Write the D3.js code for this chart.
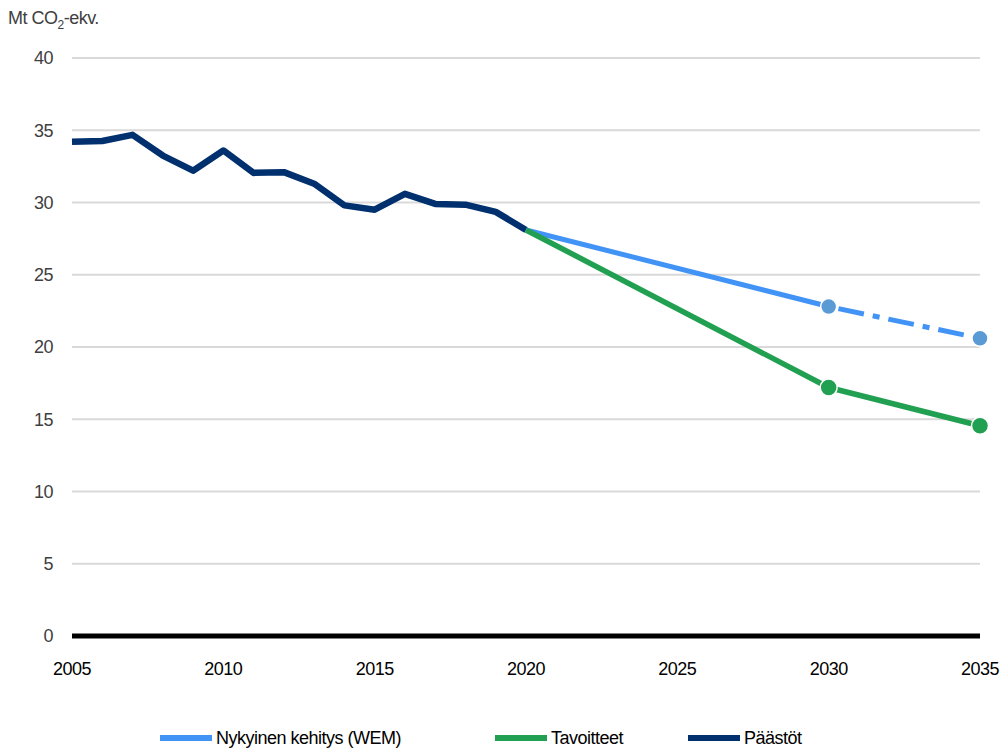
<!DOCTYPE html>
<html>
<head>
<meta charset="utf-8">
<script src="https://cdn.jsdelivr.net/npm/d3@7"></script>
<style>
  body { margin: 0; background: #fff; }
  svg { font-family: "Liberation Sans", "Arial", sans-serif; letter-spacing: -0.5px; }
</style>
</head>
<body>
<svg id="chart"></svg>
<script>
// Historical emissions (Päästöt)
const histYears = [2005, 2006, 2007, 2008, 2009, 2010, 2011, 2012, 2013, 2014, 2015, 2016, 2017, 2018, 2019, 2020];
const histValues = [34.2, 34.26, 34.68, 33.25, 32.2, 33.6, 32.05, 32.1, 31.3, 29.8, 29.5, 30.6, 29.9, 29.85, 29.35, 28.1];

// Nykyinen kehitys (WEM)
const wemYears = [2020, 2030, 2035];
const wemValues = [28.1, 22.8, 20.6];

// Tavoitteet
const targetYears = [2020, 2030, 2035];
const targetValues = [28.1, 17.2, 14.55];

const yTicks = [0, 5, 10, 15, 20, 25, 30, 35, 40];
const xTicks = [2005, 2010, 2015, 2020, 2025, 2030, 2035];

const legendItems = [
  { label: 'Nykyinen kehitys (WEM)', color: '#4193f5' },
  { label: 'Tavoitteet', color: '#22a052' },
  { label: 'Päästöt', color: '#00306e' }
];

const width = 1000, height = 749;
const margin = { top: 58, right: 20, bottom: 113, left: 72 };

const svg = d3.select('#chart').attr('width', width).attr('height', height);

const x = d3.scaleLinear().domain([2005, 2035]).range([margin.left, 980]);
const y = d3.scaleLinear().domain([0, 40]).range([height - margin.bottom, margin.top]);

// Gridlines
svg.append('g')
  .selectAll('line')
  .data(yTicks.filter(d => d > 0))
  .enter()
  .append('line')
  .attr('x1', x(2005))
  .attr('x2', x(2035))
  .attr('y1', d => y(d))
  .attr('y2', d => y(d))
  .attr('stroke', '#d9d9d9')
  .attr('stroke-width', 2);

// Y tick labels
svg.append('g')
  .selectAll('text')
  .data(yTicks)
  .enter()
  .append('text')
  .attr('x', 53)
  .attr('y', d => y(d))
  .attr('dy', '0.35em')
  .attr('text-anchor', 'end')
  .attr('fill', '#404040')
  .style('font-size', '18px')
  .text(d => d);

// Zero axis
svg.append('line')
  .attr('x1', x(2005))
  .attr('x2', x(2035))
  .attr('y1', y(0))
  .attr('y2', y(0))
  .attr('stroke', '#000')
  .attr('stroke-width', 5);

// X tick labels
svg.append('g')
  .selectAll('text')
  .data(xTicks)
  .enter()
  .append('text')
  .attr('x', d => x(d))
  .attr('y', 675)
  .attr('text-anchor', 'middle')
  .attr('fill', '#000')
  .style('font-size', '18px')
  .text(d => d);

// Unit label
const unit = svg.append('text')
  .attr('x', 8)
  .attr('y', 24)
  .attr('fill', '#404040')
  .style('font-size', '18px');
unit.append('tspan').text('Mt CO');
unit.append('tspan').attr('dy', 5).style('font-size', '12px').text('2');
unit.append('tspan').attr('dy', -5).text('-ekv.');

const line = d3.line().x(d => x(d[0])).y(d => y(d[1]));

// Päästöt
svg.append('path')
  .datum(histYears.map((yr, i) => [yr, histValues[i]]))
  .attr('d', line)
  .attr('fill', 'none')
  .attr('stroke', '#00306e')
  .attr('stroke-width', 6.5)
  .attr('stroke-linejoin', 'round');

// WEM: solid to 2030, dash-dot to 2035
const wemPts = wemYears.map((yr, i) => [yr, wemValues[i]]);
svg.append('path')
  .datum(wemPts.slice(0, 2))
  .attr('d', line)
  .attr('fill', 'none')
  .attr('stroke', '#4193f5')
  .attr('stroke-width', 5);
svg.append('path')
  .datum(wemPts.slice(1))
  .attr('d', line)
  .attr('fill', 'none')
  .attr('stroke', '#4193f5')
  .attr('stroke-width', 5)
  .attr('stroke-dasharray', '26,9,7,9')
  .attr('stroke-dashoffset', -10);

// Tavoitteet
const targetPts = targetYears.map((yr, i) => [yr, targetValues[i]]);
svg.append('path')
  .datum(targetPts)
  .attr('d', line)
  .attr('fill', 'none')
  .attr('stroke', '#22a052')
  .attr('stroke-width', 5.5)
  .attr('stroke-linejoin', 'round');

// Markers
svg.append('g')
  .selectAll('circle')
  .data(wemPts.slice(1))
  .enter()
  .append('circle')
  .attr('cx', d => x(d[0]))
  .attr('cy', d => y(d[1]))
  .attr('r', 8)
  .attr('fill', '#5b9bd5')
  .attr('stroke', '#fff')
  .attr('stroke-width', 1.5);

svg.append('g')
  .selectAll('circle')
  .data(targetPts.slice(1))
  .enter()
  .append('circle')
  .attr('cx', d => x(d[0]))
  .attr('cy', d => y(d[1]))
  .attr('r', 8.5)
  .attr('fill', '#22a052')
  .attr('stroke', '#fff')
  .attr('stroke-width', 1.5);

// Legend
const legendX = [160, 495, 688];
const legend = svg.append('g')
  .selectAll('g')
  .data(legendItems)
  .enter()
  .append('g')
  .attr('transform', (d, i) => `translate(${legendX[i]}, 738)`);

legend.append('line')
  .attr('x1', 0)
  .attr('x2', 52)
  .attr('stroke', d => d.color)
  .attr('stroke-width', 6);

legend.append('text')
  .attr('x', 56)
  .attr('dy', '0.35em')
  .attr('fill', '#000')
  .style('font-size', '18px')
  .text(d => d.label);
</script>
</body>
</html>
